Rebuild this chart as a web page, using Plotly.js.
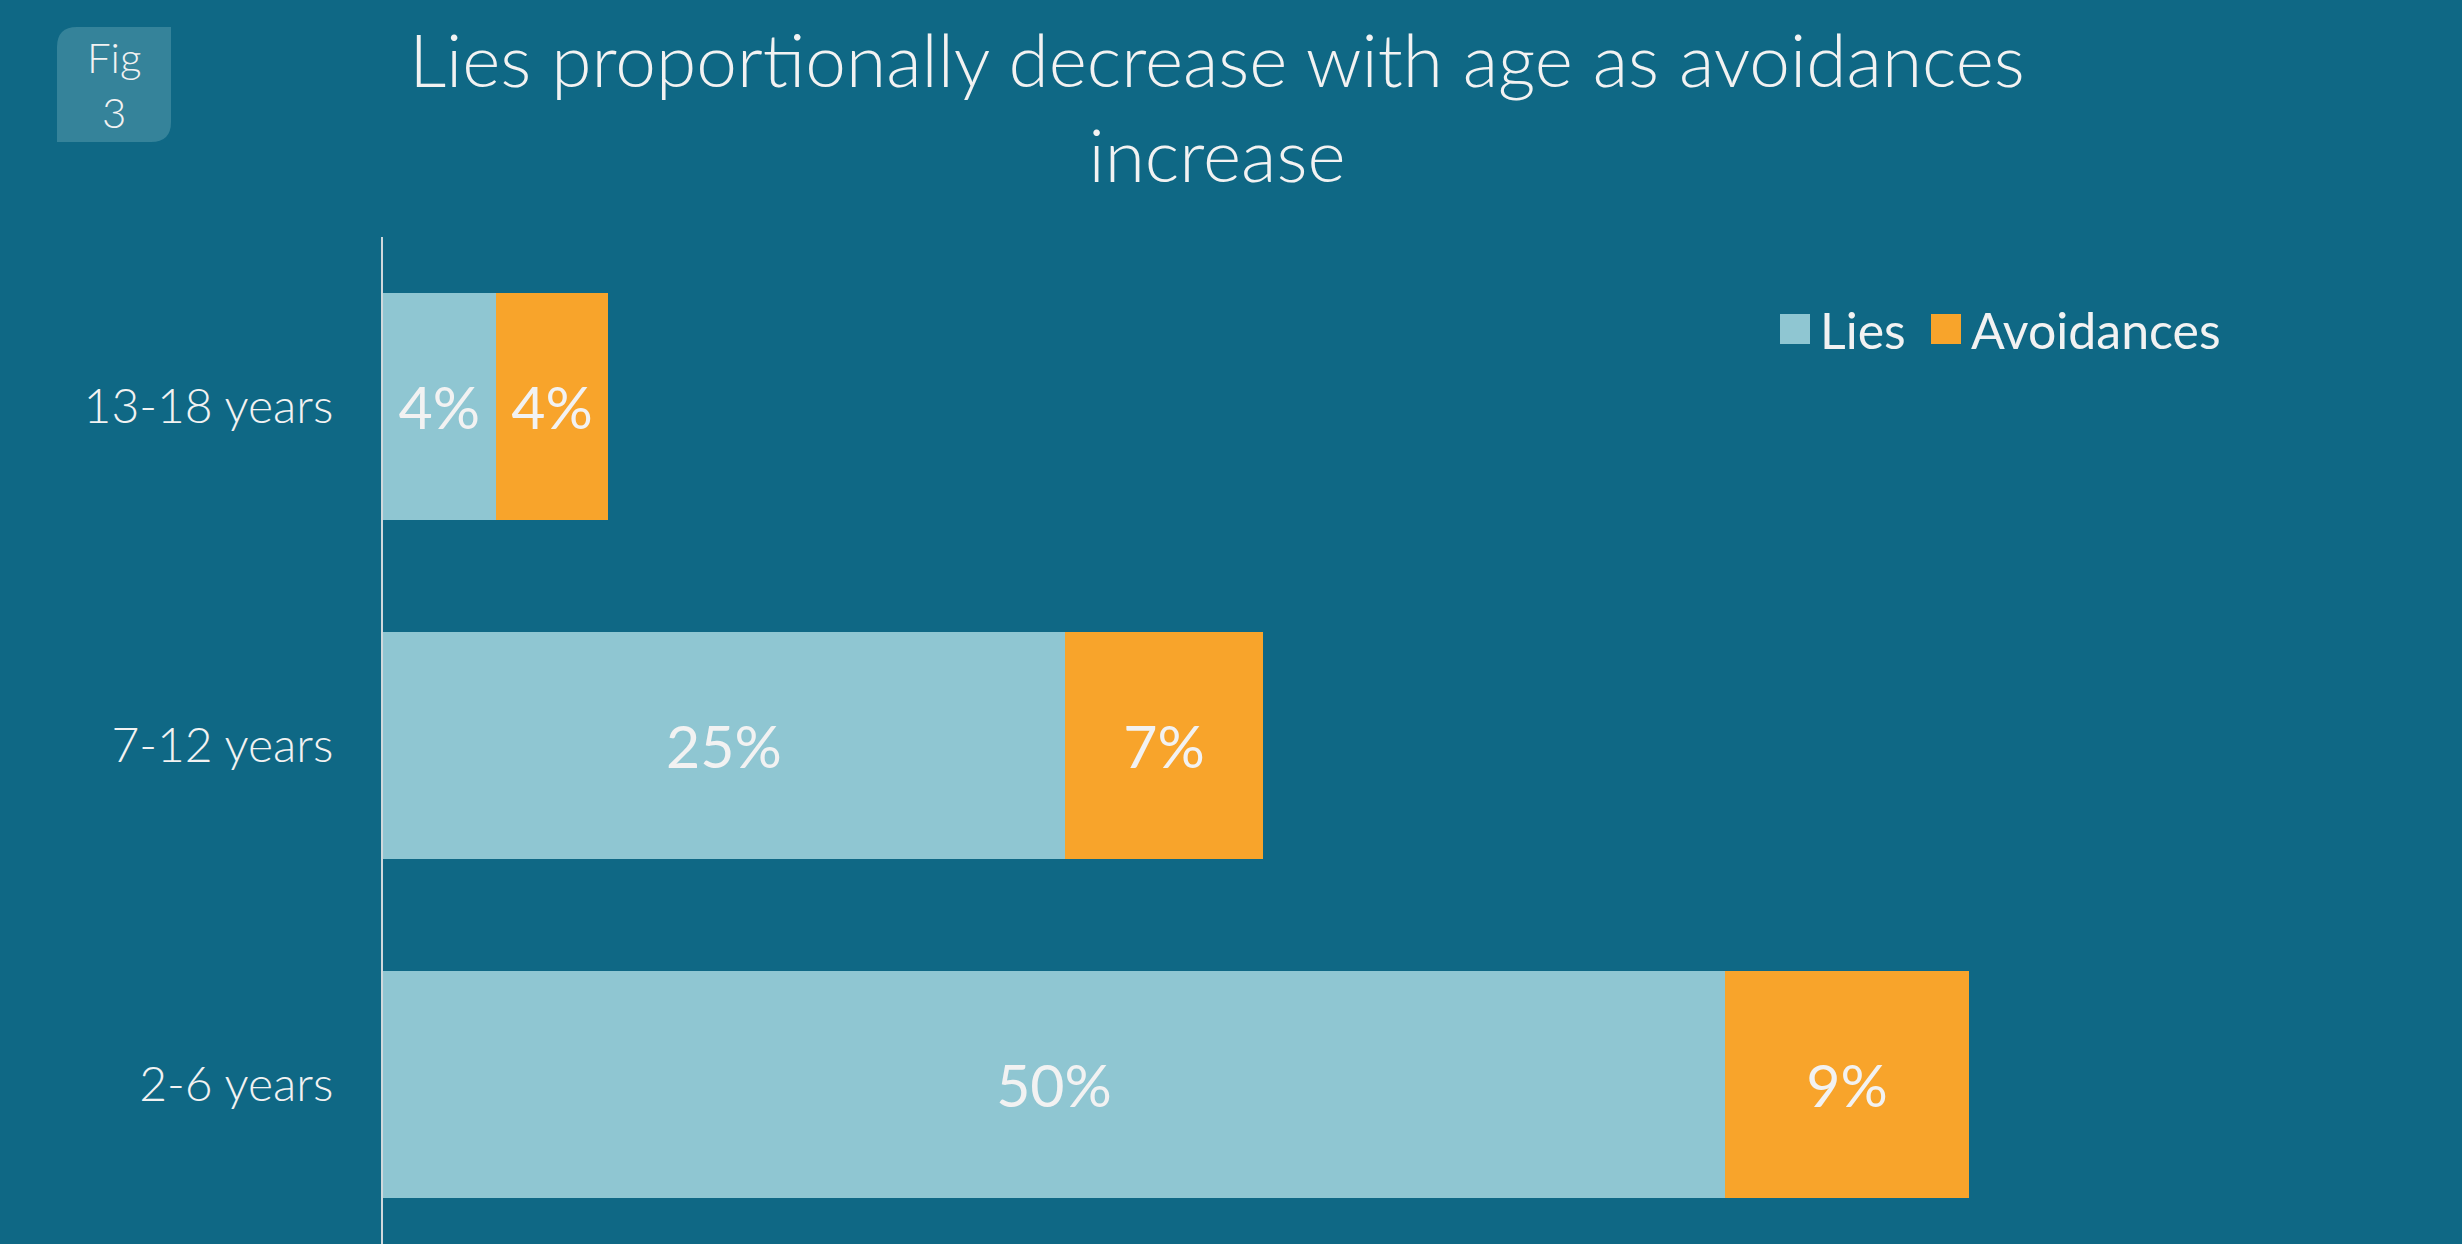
<!DOCTYPE html>
<html>
<head>
<meta charset="utf-8">
<script src="https://cdn.plot.ly/plotly-3.0.1.min.js"></script>
<style>html,body{margin:0;padding:0;background:#0f6885;}#chart{width:2462px;height:1244px;}</style>
</head>
<body>
<div id="chart"></div>
<script>
// ---- data ----
const categories = ['2-6 years', '7-12 years', '13-18 years'];
const seriesNames = ['Lies', 'Avoidances'];
const lies = [0.50, 0.254, 0.042];
const avoidances = [0.091, 0.074, 0.042];
const titleText = 'Lies proportionally decrease with age as avoidances<br>increase';
const figLabel = 'Fig<br>3';

// ---- layout geometry ----
const W = 2462, H = 1244;
const M = {l: 383, r: 66, t: 237, b: 0};
const plotW = W - M.l - M.r, plotH = H - M.t - M.b;
const px = x => (x - M.l) / plotW;
const py = y => (H - M.b - y) / plotH;

const bg = '#0f6885';
const txt = '#f2f2f2';
const font = 'Lato, "Open Sans", sans-serif';

const traces = [
  {type: 'bar', orientation: 'h', name: seriesNames[0], y: categories, x: lies,
   legend: 'legend',
   marker: {color: '#8fc6d2', line: {width: 0}},
   texttemplate: '%{x:.0%}', textposition: 'inside', insidetextanchor: 'middle',
   constraintext: 'none', textfont: {family: font, size: 59, color: txt}},
  {type: 'bar', orientation: 'h', name: seriesNames[1], y: categories, x: avoidances,
   legend: 'legend2',
   marker: {color: '#f8a42b', line: {width: 0}},
   texttemplate: '%{x:.0%}', textposition: 'inside', insidetextanchor: 'middle',
   constraintext: 'none', textfont: {family: font, size: 59, color: txt}}
];

// Fig box path (top-left and bottom-right corners rounded)
const bx0 = 57, bx1 = 171, by0 = 27, by1 = 142, r = 20;
const P = (x, y) => px(x) + ',' + py(y);
const figPath = 'M' + P(bx0 + r, by0) + ' L' + P(bx1, by0) + ' L' + P(bx1, by1 - r) +
  ' Q' + P(bx1, by1) + ' ' + P(bx1 - r, by1) + ' L' + P(bx0, by1) + ' L' + P(bx0, by0 + r) +
  ' Q' + P(bx0, by0) + ' ' + P(bx0 + r, by0) + ' Z';

const legendBase = {orientation: 'h', xanchor: 'left', y: py(329), yanchor: 'middle',
  bgcolor: 'rgba(0,0,0,0)', borderwidth: 0, itemwidth: 40,
  font: {family: font, size: 50, color: txt}};

const layout = {
  width: W, height: H,
  margin: M,
  paper_bgcolor: bg, plot_bgcolor: bg,
  barmode: 'stack', bargap: 0.333,
  font: {family: font, color: txt},
  title: {text: titleText, x: 1217 / W, xref: 'container', xanchor: 'center',
          y: 1 - 87 / H, yref: 'container', yanchor: 'middle',
          font: {family: font, size: 73, color: txt, weight: 300}},
  xaxis: {range: [0, 0.75], visible: false, showgrid: false, zeroline: false, fixedrange: true},
  yaxis: {type: 'category', range: [-0.4705, 2.5], showgrid: false, zeroline: false,
          showline: true, linecolor: '#d0d8dc', linewidth: 2,
          ticks: 'outside', ticklen: 38, tickcolor: 'rgba(0,0,0,0)',
          tickfont: {family: font, size: 48, color: txt, weight: 300}, fixedrange: true},
  showlegend: true,
  legend: Object.assign({}, legendBase, {x: px(1770)}),
  legend2: Object.assign({}, legendBase, {x: px(1921)}),
  shapes: [{type: 'path', xref: 'paper', yref: 'paper', path: figPath,
            fillcolor: '#35839a', line: {width: 0}, layer: 'below'}],
  annotations: [{text: figLabel, xref: 'paper', yref: 'paper', x: px((bx0 + bx1) / 2),
                 y: py((by0 + by1) / 2), xanchor: 'center', yanchor: 'middle',
                 showarrow: false, font: {family: font, size: 42, color: txt, weight: 300}}],
  hovermode: false
};

Plotly.newPlot('chart', traces, layout, {staticPlot: true, displayModeBar: false}).then(gd => {
  gd.querySelectorAll('.legendpoints path').forEach(p => {
    const t = p.getAttribute('transform') || '';
    p.setAttribute('transform', t + ' scale(2.5)');
  });
});
</script>
</body>
</html>
